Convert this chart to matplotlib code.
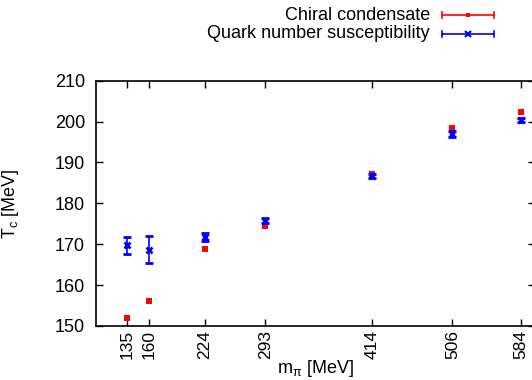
import matplotlib
matplotlib.use("Agg")
import matplotlib.pyplot as plt
from matplotlib.lines import Line2D

plt.rcParams['font.family'] = ['Liberation Sans', 'DejaVu Sans']
plt.rcParams['mathtext.default'] = 'regular'

m_pi = [135, 160, 224, 293, 414, 506, 584]
tick_labels = ['135', '160', '224', '293', '414', '506', '584']
chiral_tc = [152.0, 156.1, 168.8, 174.5, 187.3, 198.5, 202.4]
chiral_err = [0.5, 0.25, 0.3, 0.4, 0.3, 0.4, 0.3]
quark_tc = [169.7, 168.7, 171.8, 175.8, 186.6, 196.9, 200.4]
quark_err = [2.1, 3.2, 1.0, 0.7, 0.5, 0.7, 0.4]
y_ticks = [150, 160, 170, 180, 190, 200, 210]

W, H = 532, 380
fig = plt.figure(figsize=(W / 100, H / 100), dpi=100)
ax = fig.add_axes([96 / W, (H - 326) / H, (535 - 96) / W, (326 - 80.7) / H])

ax.errorbar(m_pi, chiral_tc, yerr=chiral_err, fmt='s', color='#ff0000',
            ms=4.5, mew=0, elinewidth=1.2, capsize=3, capthick=1.2, zorder=3)
ax.errorbar(m_pi, quark_tc, yerr=quark_err, fmt='x', color='#0000ff',
            ms=4.5, mew=2, elinewidth=1.2, capsize=3, capthick=1.2, zorder=4)

ax.set_xlim(100, 600)
ax.set_ylim(150, 210)
ax.set_xticks(m_pi)
ax.set_xticklabels(tick_labels, rotation=90, fontsize=12.5)
ax.set_yticks(y_ticks)
ax.set_yticklabels([str(v) for v in y_ticks], fontsize=13)
ax.tick_params(direction='in', length=5, width=1, top=True, right=True)
ax.tick_params(axis='x', pad=3)
ax.tick_params(axis='y', pad=8)
for s in ax.spines.values():
    s.set_linewidth(1.2)
ax.set_xlabel(r'm$_\pi$ [MeV]', fontsize=13, labelpad=-1)
ax.set_ylabel(r'T$_c$ [MeV]', fontsize=13, labelpad=24)

# legend in gnuplot style (figure pixel coordinates)
def fx(x):
    return x / W
def fy(y):
    return 1 - y / H

entries = [('Chiral condensate', '#ff0000', 's', 2, 15),
           ('Quark number susceptibility', '#0000ff', 'x', 5, 34)]
for label, col, mk, msz, yy in entries:
    fig.text(fx(430), fy(yy), label, ha='right', va='center', fontsize=13)
    fig.add_artist(Line2D([fx(442), fx(494)], [fy(yy), fy(yy)], color=col, lw=1.2))
    for xe in (442, 494):
        fig.add_artist(Line2D([fx(xe), fx(xe)], [fy(yy - 3), fy(yy + 3)], color=col, lw=1.2))
    fig.add_artist(Line2D([fx(468)], [fy(yy)], color=col, marker=mk, ms=msz, mew=1.5))

fig.savefig('out.png', dpi=100)
